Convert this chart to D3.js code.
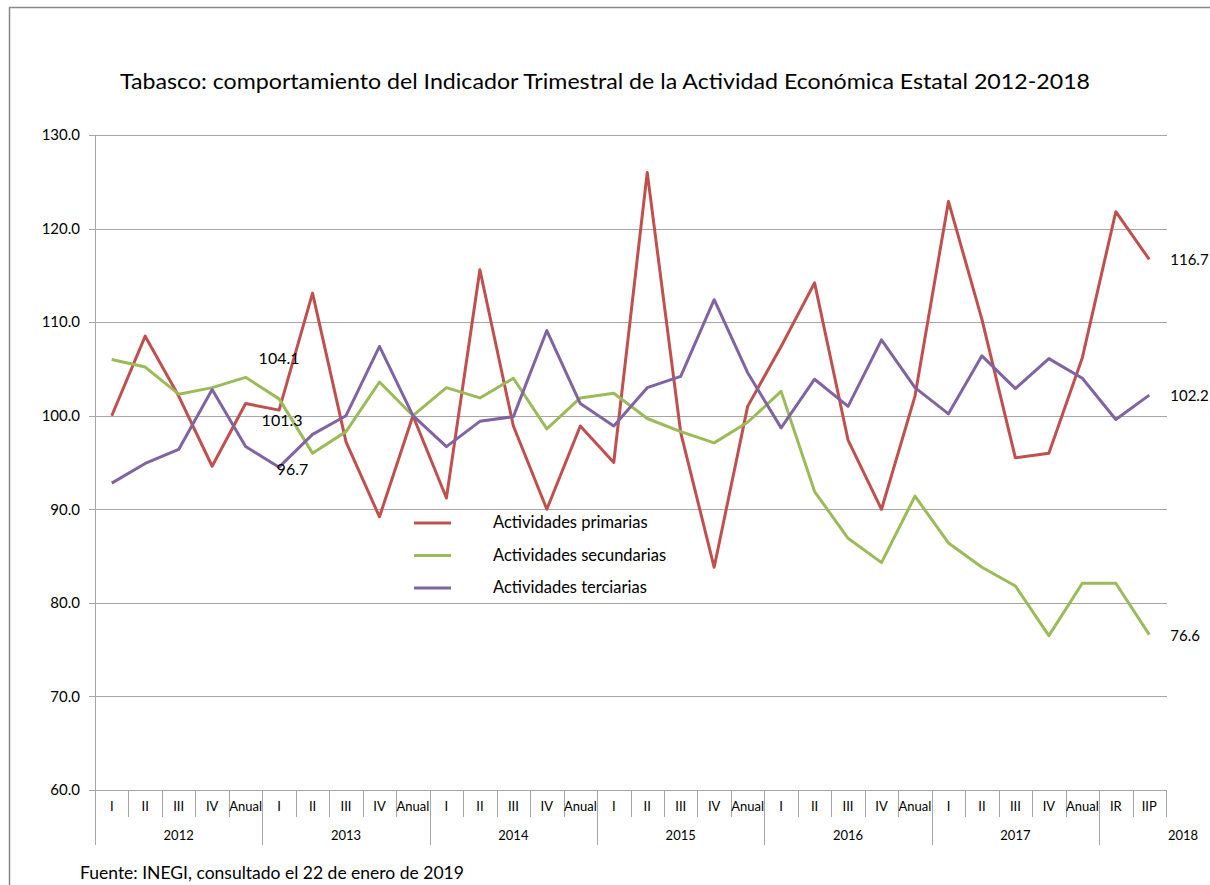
<!DOCTYPE html>
<html>
<head>
<meta charset="utf-8">
<script src="https://cdn.jsdelivr.net/npm/d3@7"></script>
<style>
  body { margin: 0; background: #fff; }
  text { font-family: Lato, "Open Sans", sans-serif; fill: #000; }
</style>
</head>
<body>
<svg id="chart" width="1210" height="885"></svg>
<script>
// periods shown on the x axis, grouped by year
const quarters = ["I","II","III","IV","Anual"]
const years = ["2012","2013","2014","2015","2016","2017"]
const lastYear = "2018"
const lastPeriods = ["IR","IIP"]

const yTicks = [60,70,80,90,100,110,120,130]

// Actividades primarias
const primarias = [100.0,108.5,102.1,94.6,101.3, 100.6,113.1,97.2,89.2,100.0,
                   91.2,115.6,98.9,90.0,98.9, 95.0,126.0,98.2,83.8,101.0,
                   107.4,114.2,97.4,90.0,102.1, 122.9,110.3,95.5,96.0,106.2,
                   121.8,116.7]
// Actividades secundarias
const secundarias = [106.0,105.2,102.3,103.0,104.1, 101.8,96.0,98.3,103.6,100.0,
                     103.0,101.9,104.0,98.6,101.9, 102.4,99.7,98.3,97.1,99.3,
                     102.6,91.9,86.9,84.3,91.4, 86.4,83.8,81.8,76.5,82.1,
                     82.1,76.6]
// Actividades terciarias
const terciarias = [92.8,94.9,96.4,102.8,96.7, 94.5,98.0,100.0,107.4,100.0,
                    96.7,99.4,99.9,109.1,101.3, 98.9,103.0,104.2,112.4,104.6,
                    98.7,103.9,101.0,108.1,103.0, 100.2,106.4,102.9,106.1,104.0,
                    99.6,102.2]

const seriesNames = ["Actividades primarias","Actividades secundarias","Actividades terciarias"]
const seriesColors = ["#C0504D","#9BBB59","#8064A2"]
const seriesData = [primarias, secundarias, terciarias]

let labels = []
years.forEach(y => quarters.forEach(q => labels.push(q)))
lastPeriods.forEach(q => labels.push(q))
const idx = d3.range(labels.length)

const svg = d3.select("#chart")
const plotLeft = 95, plotRight = 1166, plotTop = 135, plotBottom = 790

// outer frame of the chart area
svg.append("path")
   .attr("d", "M9.5,885 L9.5,7.5 L1210,7.5")
   .attr("fill", "none")
   .attr("stroke", "#888")
   .attr("stroke-width", 1.5)

svg.append("text")
   .attr("x", 605).attr("y", 89)
   .attr("text-anchor", "middle")
   .attr("font-size", 21)
   .attr("textLength", 970)
   .attr("lengthAdjust", "spacingAndGlyphs")
   .text("Tabasco: comportamiento del Indicador Trimestral de la Actividad Económica Estatal 2012-2018")

const x = d3.scaleBand().domain(idx).range([plotLeft, plotRight])
const cx = i => x(i) + x.bandwidth() / 2

const y = d3.scaleLinear().domain([60, 130]).range([plotBottom, plotTop])

// gridlines
svg.append("g").selectAll("line")
   .data(yTicks)
   .enter().append("line")
   .attr("x1", plotLeft - 6).attr("x2", plotRight + 1)
   .attr("y1", d => Math.round(y(d)) + 0.5).attr("y2", d => Math.round(y(d)) + 0.5)
   .attr("stroke", "#a6a6a6")
   .attr("stroke-width", 1)

const axisY = d3.axisLeft(y).tickValues(yTicks).tickSize(0).tickPadding(15)
                .tickFormat(d3.format(".1f"))
const gy = svg.append("g").attr("transform", `translate(${plotLeft},0)`).call(axisY)
gy.select(".domain").remove()
gy.selectAll("text").attr("font-size", 15).attr("font-family", "Lato")

// y axis line, goes down through the category rows
svg.append("line")
   .attr("x1", plotLeft + 0.5).attr("x2", plotLeft + 0.5)
   .attr("y1", plotTop).attr("y2", 845)
   .attr("stroke", "#a6a6a6")

// separators between periods
svg.append("g").selectAll("line")
   .data(d3.range(1, labels.length + 1))
   .enter().append("line")
   .attr("x1", d => Math.round(x(d) ?? plotRight) + 0.5)
   .attr("x2", d => Math.round(x(d) ?? plotRight) + 0.5)
   .attr("y1", plotBottom)
   .attr("y2", d => (d % 5 == 0 && d < 31) ? 845 : 817)
   .attr("stroke", "#a6a6a6")

const axisX = d3.axisBottom(x).tickSize(0).tickPadding(12).tickFormat(i => labels[i])
const gx = svg.append("g").attr("transform", `translate(0,${plotBottom})`).call(axisX)
gx.select(".domain").remove()
gx.selectAll("text").attr("font-size", 13).attr("font-family", "Lato")

// year labels under each group
years.forEach((yr, k) => {
  svg.append("text")
     .attr("x", (x(k * 5) + x(k * 5 + 4) + x.bandwidth()) / 2)
     .attr("y", 840)
     .attr("text-anchor", "middle")
     .attr("font-size", 13)
     .text(yr)
})
svg.append("text")
   .attr("x", plotRight + 17).attr("y", 840)
   .attr("text-anchor", "middle")
   .attr("font-size", 13)
   .text(lastYear)

// lines
const line = d3.line().x((d, i) => cx(i)).y(d => y(d))
seriesData.forEach((s, k) => {
  svg.append("path")
     .datum(s)
     .attr("d", line)
     .attr("fill", "none")
     .attr("stroke", seriesColors[k])
     .attr("stroke-width", 3)
     .attr("stroke-linejoin", "round")
})

// data labels on Anual 2012 and on the last period
const dl = svg.append("g").attr("font-size", 16)
dl.append("text").attr("x", cx(4) + 13).attr("y", y(secundarias[4]) - 13).text(secundarias[4].toFixed(1))
dl.append("text").attr("x", cx(4) + 16).attr("y", y(primarias[4]) + 22).text(primarias[4].toFixed(1))
dl.append("text").attr("x", cx(4) + 31).attr("y", y(terciarias[4]) + 28).text(terciarias[4].toFixed(1))
const last = labels.length - 1
seriesData.forEach(s => {
  svg.append("text")
     .attr("x", cx(last) + 21).attr("y", y(s[last]) + 6)
     .attr("font-size", 15)
     .text(s[last].toFixed(1))
})

// legend
const lg = svg.append("g")
seriesNames.forEach((n, k) => {
  lg.append("line")
    .attr("x1", 414).attr("x2", 451)
    .attr("y1", 523 + k * 32.5).attr("y2", 523 + k * 32.5)
    .attr("stroke", seriesColors[k]).attr("stroke-width", 3)
  lg.append("text")
    .attr("x", 493).attr("y", 528 + k * 32.5)
    .attr("font-size", 16.5)
    .text(n)
})

svg.append("text")
   .attr("x", 80).attr("y", 879)
   .attr("font-size", 17.5)
   .text("Fuente: INEGI, consultado el 22 de enero de 2019")
</script>
</body>
</html>
